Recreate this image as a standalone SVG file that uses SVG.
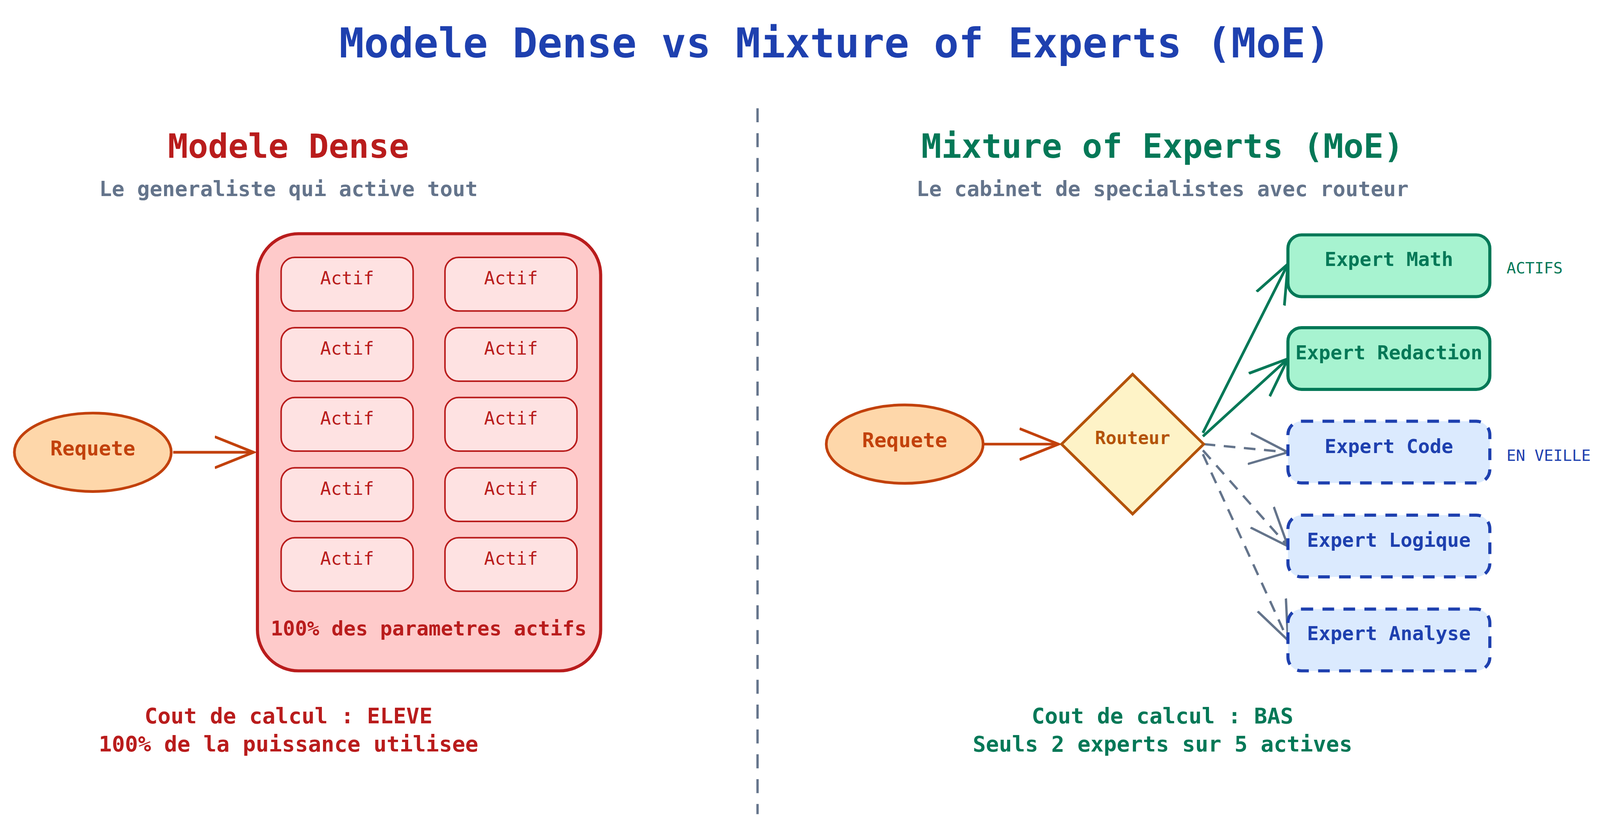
<svg xmlns="http://www.w3.org/2000/svg" width="4140" height="2120" viewBox="0 0 4140 2120">
<style>
text{font-family:"DejaVu Sans Mono","Liberation Mono",monospace;text-anchor:middle;dominant-baseline:central}
.cell{fill:#fee2e2;stroke:#b91c1c;stroke-width:4}
.ct{fill:#b91c1c;font-size:46px}
.act{fill:#a7f3d0;stroke:#047857;stroke-width:8}
.at{fill:#047857;font-size:50px;font-weight:bold}
.idle{fill:#dbeafe;stroke:#1e40af;stroke-width:8;stroke-dasharray:30 24}
.it{fill:#1e40af;font-size:50px;font-weight:bold}
.sub{fill:#64748b;font-size:54px;font-weight:bold}
.lbl{font-size:40px;text-anchor:start}
</style>
<defs>
<marker id="ao" markerUnits="userSpaceOnUse" markerWidth="120" markerHeight="120" refX="100" refY="50" orient="auto"><path d="M0,10 L100,50 L0,90" fill="none" stroke="#c2410c" stroke-width="7"/></marker>
<marker id="ag" markerUnits="userSpaceOnUse" markerWidth="120" markerHeight="120" refX="100" refY="50" orient="auto"><path d="M0,10 L100,50 L0,90" fill="none" stroke="#047857" stroke-width="7"/></marker>
<marker id="ay" markerUnits="userSpaceOnUse" markerWidth="120" markerHeight="120" refX="100" refY="50" orient="auto"><path d="M0,10 L100,50 L0,90" fill="none" stroke="#64748b" stroke-width="6"/></marker>
</defs>
<rect width="4140" height="2120" fill="#fff"/>
<g transform="scale(0.994)">
<text x="2150" y="111" fill="#1e40af" font-size="106" font-weight="bold">Modele Dense vs Mixture of Experts (MoE)</text>
<line x1="1951" y1="279" x2="1951" y2="2097" stroke="#64748b" stroke-width="6" stroke-dasharray="36 28"/>
<text x="743" y="377" fill="#b91c1c" font-size="86" font-weight="bold">Modele Dense</text>
<text x="743" y="486" class="sub">Le generaliste qui active tout</text>
<text x="2994" y="377" fill="#047857" font-size="86" font-weight="bold">Mixture of Experts (MoE)</text>
<text x="2994" y="486" class="sub">Le cabinet de specialistes avec routeur</text>
<g id="connectors" fill="none">
<line x1="446" y1="1165" x2="653" y2="1165" stroke="#c2410c" stroke-width="7" marker-end="url(#ao)"/>
<line x1="2535" y1="1144" x2="2726" y2="1144" stroke="#c2410c" stroke-width="7" marker-end="url(#ao)"/>
<line x1="3098" y1="1115" x2="3317" y2="680" stroke="#047857" stroke-width="7" marker-end="url(#ag)"/>
<line x1="3098" y1="1124" x2="3317" y2="924" stroke="#047857" stroke-width="7" marker-end="url(#ag)"/>
<line x1="3100" y1="1144" x2="3317" y2="1165" stroke="#64748b" stroke-width="6" stroke-dasharray="30 22" marker-end="url(#ay)"/>
<line x1="3098" y1="1160" x2="3317" y2="1407" stroke="#64748b" stroke-width="6" stroke-dasharray="30 22" marker-end="url(#ay)"/>
<line x1="3098" y1="1170" x2="3317" y2="1649" stroke="#64748b" stroke-width="6" stroke-dasharray="30 22" marker-end="url(#ay)"/>
</g>
<g id="req1"><ellipse cx="239" cy="1165" rx="202" ry="101" fill="#fed7aa" stroke="#c2410c" stroke-width="7"/><text x="239" y="1155" fill="#c2410c" font-size="52" font-weight="bold">Requete</text></g>
<g id="dense">
<rect x="663" y="602" width="884" height="1126" rx="106" fill="#fecaca" stroke="#b91c1c" stroke-width="8"/>
<rect class="cell" x="724" y="663" width="340" height="138" rx="35"/><text class="ct" x="894" y="717">Actif</text>
<rect class="cell" x="1146" y="663" width="340" height="138" rx="35"/><text class="ct" x="1316" y="717">Actif</text>
<rect class="cell" x="724" y="844" width="340" height="138" rx="35"/><text class="ct" x="894" y="898">Actif</text>
<rect class="cell" x="1146" y="844" width="340" height="138" rx="35"/><text class="ct" x="1316" y="898">Actif</text>
<rect class="cell" x="724" y="1024" width="340" height="138" rx="35"/><text class="ct" x="894" y="1078">Actif</text>
<rect class="cell" x="1146" y="1024" width="340" height="138" rx="35"/><text class="ct" x="1316" y="1078">Actif</text>
<rect class="cell" x="724" y="1205" width="340" height="138" rx="35"/><text class="ct" x="894" y="1259">Actif</text>
<rect class="cell" x="1146" y="1205" width="340" height="138" rx="35"/><text class="ct" x="1316" y="1259">Actif</text>
<rect class="cell" x="724" y="1385" width="340" height="138" rx="35"/><text class="ct" x="894" y="1439">Actif</text>
<rect class="cell" x="1146" y="1385" width="340" height="138" rx="35"/><text class="ct" x="1316" y="1439">Actif</text>
<text x="1104" y="1619" fill="#b91c1c" font-size="52" font-weight="bold">100% des parametres actifs</text>
</g>
<text x="743" y="1844" fill="#b91c1c" font-size="56" font-weight="bold">Cout de calcul : ELEVE</text>
<text x="743" y="1916" fill="#b91c1c" font-size="56" font-weight="bold">100% de la puissance utilisee</text>
<g id="req2"><ellipse cx="2330" cy="1144" rx="202" ry="101" fill="#fed7aa" stroke="#c2410c" stroke-width="7"/><text x="2330" y="1134" fill="#c2410c" font-size="52" font-weight="bold">Requete</text></g>
<g id="router"><path d="M2917,964 L3100,1144 L2917,1324 L2734,1144 Z" fill="#fef3c7" stroke="#b45309" stroke-width="7"/><text x="2917" y="1128" fill="#b45309" font-size="46" font-weight="bold">Routeur</text></g>
<g id="math"><rect class="act" x="3317" y="605" width="520" height="159" rx="35"/><text class="at" x="3577" y="668">Expert Math</text></g>
<g id="redaction"><rect class="act" x="3317" y="844" width="520" height="159" rx="35"/><text class="at" x="3577" y="908">Expert Redaction</text></g>
<g id="code"><rect class="idle" x="3317" y="1085" width="520" height="159" rx="35"/><text class="it" x="3577" y="1150">Expert Code</text></g>
<g id="logique"><rect class="idle" x="3317" y="1327" width="520" height="159" rx="35"/><text class="it" x="3577" y="1391">Expert Logique</text></g>
<g id="analyse"><rect class="idle" x="3317" y="1569" width="520" height="159" rx="35"/><text class="it" x="3577" y="1632">Expert Analyse</text></g>
<text class="lbl" x="3880" y="690" fill="#047857">ACTIFS</text>
<text class="lbl" x="3880" y="1173" fill="#1e40af">EN VEILLE</text>
<text x="2994" y="1844" fill="#047857" font-size="56" font-weight="bold">Cout de calcul : BAS</text>
<text x="2994" y="1916" fill="#047857" font-size="56" font-weight="bold">Seuls 2 experts sur 5 actives</text>
</g>
</svg>
